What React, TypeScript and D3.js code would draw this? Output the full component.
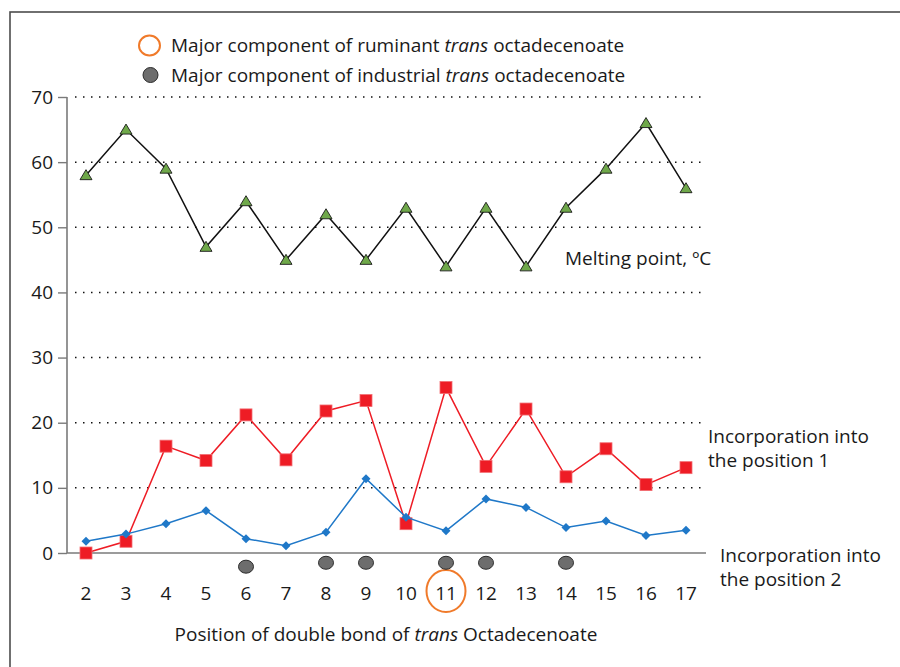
import React, { useEffect, useRef } from "react";
import * as d3 from "d3";

// double bond positions on the x axis
const positions = [2, 3, 4, 5, 6, 7, 8, 9, 10, 11, 12, 13, 14, 15, 16, 17];

// melting point, ºC
const meltingPoint = [58, 65, 59, 47, 54, 45, 52, 45, 53, 44, 53, 44, 53, 59, 66, 56];

// incorporation into position 1 (red squares)
const position1 = [0, 1.8, 16.4, 14.2, 21.2, 14.3, 21.8, 23.4, 4.5, 25.4, 13.3, 22.1, 11.7, 16.0, 10.5, 13.1];

// incorporation into position 2 (blue diamonds)
const position2 = [1.8, 2.9, 4.5, 6.5, 2.2, 1.1, 3.2, 11.4, 5.5, 3.4, 8.3, 7.0, 3.9, 4.9, 2.7, 3.5];

// industrial major components (grey dots under the axis)
const industrialPositions = [6, 8, 9, 11, 12, 14];
const industrialOffsets = [-2.1, -1.5, -1.5, -1.5, -1.5, -1.5];

// ruminant major component (orange ring round the tick label)
const ruminantPosition = 11;

const yTicks = [0, 10, 20, 30, 40, 50, 60, 70];

const FONT = "'Open Sans', 'Noto Sans', sans-serif";
const FS = "19px";

const App = () => {
  const svgRef = useRef<SVGSVGElement | null>(null);

  useEffect(() => {
    const width = 900;
    const height = 667;

    const x = d3.scaleLinear().domain([2, 17]).range([86, 686]);
    const y = d3.scaleLinear().domain([0, 70]).range([553, 97]);

    const svg = d3.select(svgRef.current);
    svg.selectAll("*").remove();
    svg.attr("width", width).attr("height", height);

    svg.append("rect").attr("width", width).attr("height", height).attr("fill", "#fff");

    // Frame
    svg
      .append("rect")
      .attr("x", 10)
      .attr("y", 12)
      .attr("width", 1000)
      .attr("height", 800)
      .attr("fill", "none")
      .attr("stroke", "#4d4d4d")
      .attr("stroke-width", 1.6);

    // Gridlines
    svg
      .append("g")
      .selectAll("line")
      .data(yTicks.filter((d) => d > 0))
      .enter()
      .append("line")
      .attr("x1", 75)
      .attr("x2", 706)
      .attr("y1", (d) => y(d))
      .attr("y2", (d) => y(d))
      .attr("stroke", "#111")
      .attr("stroke-width", 1.5)
      .attr("stroke-dasharray", "1.5,6.5");

    // y axis
    const yAxis = d3.axisLeft(y).tickValues(yTicks).tickSize(9).tickPadding(5);
    const gy = svg.append("g").attr("transform", "translate(67,0)").call(yAxis);
    gy.select(".domain").attr("stroke", "#7a7a7a").attr("stroke-width", 1.6).attr("d", `M0,${y(70)}V${y(0)}`);
    gy.selectAll(".tick line").attr("stroke", "#7a7a7a").attr("stroke-width", 1.4);
    gy.selectAll(".tick text")
      .attr("fill", "#1a1a1a")
      .style("font-family", FONT)
      .style("font-size", FS);

    // x axis line
    svg
      .append("line")
      .attr("x1", 67)
      .attr("x2", 706)
      .attr("y1", y(0))
      .attr("y2", y(0))
      .attr("stroke", "#7a7a7a")
      .attr("stroke-width", 1.6);

    // x tick labels
    svg
      .append("g")
      .selectAll("text")
      .data(positions)
      .enter()
      .append("text")
      .attr("x", (d) => x(d))
      .attr("y", 600)
      .attr("text-anchor", "middle")
      .style("font-family", FONT)
      .style("font-size", FS)
      .attr("fill", "#1a1a1a")
      .text((d) => d);

    // Ruminant ring
    svg
      .append("ellipse")
      .attr("cx", x(ruminantPosition))
      .attr("cy", 591)
      .attr("rx", 19.5)
      .attr("ry", 21)
      .attr("fill", "none")
      .attr("stroke", "#f07a2a")
      .attr("stroke-width", 2);

    // Industrial dots
    svg
      .append("g")
      .selectAll("ellipse")
      .data(industrialPositions)
      .enter()
      .append("ellipse")
      .attr("cx", (d) => x(d))
      .attr("cy", (_, i) => y(industrialOffsets[i]))
      .attr("rx", 7.5)
      .attr("ry", 6.5)
      .attr("fill", "#6d6d6d")
      .attr("stroke", "#2b2b2b")
      .attr("stroke-width", 1);

    const line = (vals: number[]) =>
      d3
        .line<number>()
        .x((_, i) => x(positions[i]))
        .y((d) => y(d))(vals);

    // Melting point
    svg
      .append("path")
      .attr("d", line(meltingPoint))
      .attr("fill", "none")
      .attr("stroke", "#111")
      .attr("stroke-width", 1.5);
    svg
      .append("g")
      .selectAll("path")
      .data(meltingPoint)
      .enter()
      .append("path")
      .attr("transform", (d, i) => `translate(${x(positions[i])},${y(d)})`)
      .attr("d", "M0,-5.5L6,4.5L-6,4.5Z")
      .attr("fill", "#6fa84a")
      .attr("stroke", "#1a1a1a")
      .attr("stroke-width", 0.9);

    // Position 1
    svg
      .append("path")
      .attr("d", line(position1))
      .attr("fill", "none")
      .attr("stroke", "#ee1c25")
      .attr("stroke-width", 1.5);
    svg
      .append("g")
      .selectAll("rect")
      .data(position1)
      .enter()
      .append("rect")
      .attr("x", (_, i) => x(positions[i]) - 6)
      .attr("y", (d) => y(d) - 6)
      .attr("width", 12)
      .attr("height", 12)
      .attr("fill", "#ee1c25")
      .attr("stroke", "#f26d72")
      .attr("stroke-width", 0.8);

    // Position 2
    svg
      .append("path")
      .attr("d", line(position2))
      .attr("fill", "none")
      .attr("stroke", "#1f78c8")
      .attr("stroke-width", 1.5);
    svg
      .append("g")
      .selectAll("path")
      .data(position2)
      .enter()
      .append("path")
      .attr("transform", (d, i) => `translate(${x(positions[i])},${y(d)})`)
      .attr("d", "M0,-4.5L4.5,0L0,4.5L-4.5,0Z")
      .attr("fill", "#1f78c8");

    // Annotations
    const label = (tx: number, ty: number, lines: string[]) => {
      const t = svg
        .append("text")
        .attr("x", tx)
        .attr("y", ty)
        .style("font-family", FONT)
        .style("font-size", FS)
        .attr("fill", "#1a1a1a");
      lines.forEach((s, i) => {
        t.append("tspan").attr("x", tx).attr("dy", i === 0 ? 0 : 23.5).text(s);
      });
    };
    label(565, 265, ["Melting point, ºC"]);
    label(708, 443, ["Incorporation into", "the position 1"]);
    label(720, 562, ["Incorporation into", "the position 2"]);

    // Legend
    svg
      .append("ellipse")
      .attr("cx", 149.5)
      .attr("cy", 45.5)
      .attr("rx", 10.5)
      .attr("ry", 10)
      .attr("fill", "none")
      .attr("stroke", "#f07a2a")
      .attr("stroke-width", 2);
    svg
      .append("circle")
      .attr("cx", 150.5)
      .attr("cy", 75)
      .attr("r", 7.5)
      .attr("fill", "#6d6d6d")
      .attr("stroke", "#2b2b2b")
      .attr("stroke-width", 1);

    const italicText = (tx: number, ty: number, parts: [string, boolean][], anchor = "start") => {
      const t = svg
        .append("text")
        .attr("x", tx)
        .attr("y", ty)
        .attr("text-anchor", anchor)
        .style("font-family", FONT)
        .style("font-size", FS)
        .attr("fill", "#1a1a1a");
      parts.forEach(([s, it]) => {
        t.append("tspan").style("font-style", it ? "italic" : "normal").text(s);
      });
    };
    italicText(171, 52, [["Major component of ruminant ", false], ["trans", true], [" octadecenoate", false]]);
    italicText(171, 81.5, [["Major component of industrial ", false], ["trans", true], [" octadecenoate", false]]);

    // x axis title
    italicText(386, 641, [["Position of double bond of ", false], ["trans", true], [" Octadecenoate", false]], "middle");
  }, []);

  return <svg ref={svgRef} style={{ position: "absolute", left: 0, top: 0, display: "block" }}></svg>;
};

export default App;
